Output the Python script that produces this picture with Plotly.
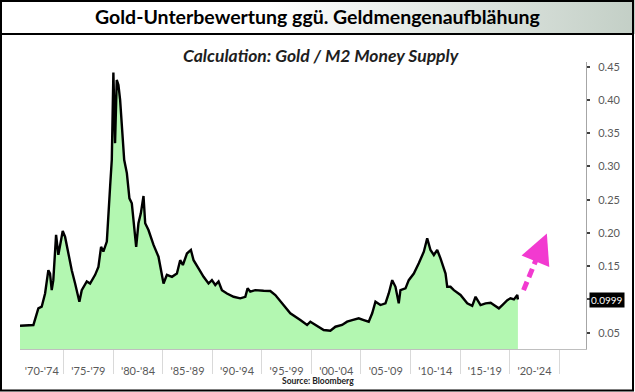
import base64
import plotly.graph_objects as go

# ---------------- data ----------------
years = [1970.60, 1971.95, 1972.45, 1972.79, 1973.13, 1973.46, 1973.63, 1973.80, 1973.96,
         1974.24, 1974.47, 1974.64, 1974.91, 1975.15, 1975.48, 1975.82, 1976.16, 1976.59,
         1976.83, 1977.34, 1977.67, 1978.18, 1978.51, 1978.78, 1979.01, 1979.36, 1979.69,
         1979.86, 1980.02, 1980.19, 1980.36, 1980.53, 1980.70, 1980.87, 1981.11, 1981.38,
         1981.64, 1981.88, 1982.05, 1982.32, 1982.55, 1982.79, 1983.06, 1983.23, 1983.56,
         1984.07, 1984.57, 1985.08, 1985.42, 1985.93, 1986.43, 1986.76, 1987.03, 1987.44,
         1987.84, 1988.11, 1988.61, 1989.12, 1989.62, 1989.96, 1990.30, 1990.63, 1990.97,
         1991.48, 1992.15, 1992.82, 1993.33, 1993.56, 1993.83, 1994.33, 1995.18, 1995.85,
         1996.36, 1996.86, 1997.87, 1998.88, 1999.56, 1999.89, 2000.57, 2001.24, 2001.91,
         2002.42, 2003.09, 2003.60, 2004.11, 2004.77, 2005.28, 2005.78, 2006.13, 2006.46,
         2006.96, 2007.47, 2007.80, 2008.15, 2008.48, 2008.81, 2008.98, 2009.49, 2009.82,
         2010.33, 2010.83, 2011.34, 2011.68, 2012.01, 2012.35, 2012.69, 2013.02, 2013.53,
         2013.70, 2014.03, 2014.37, 2015.04, 2015.72, 2016.22, 2016.56, 2017.06, 2017.57,
         2018.08, 2018.41, 2018.91, 2019.26, 2019.76, 2020.09, 2020.43, 2020.77, 2020.83]
gold_m2 = [0.0605, 0.0616, 0.0867, 0.0891, 0.109, 0.144, 0.139, 0.114, 0.129,
           0.197, 0.167, 0.179, 0.203, 0.194, 0.169, 0.144, 0.124, 0.0966,
           0.114, 0.127, 0.124, 0.137, 0.149, 0.179, 0.172, 0.187, 0.2695,
           0.310, 0.441, 0.335, 0.430, 0.4225, 0.400, 0.360, 0.310, 0.290,
           0.252, 0.2446, 0.2195, 0.179, 0.2145, 0.2295, 0.2556, 0.2145, 0.2044,
           0.182, 0.1643, 0.124, 0.137, 0.134, 0.139, 0.159, 0.1518, 0.169,
           0.1744, 0.159, 0.1468, 0.134, 0.124, 0.129, 0.1217, 0.127, 0.114,
           0.109, 0.104, 0.1017, 0.104, 0.1167, 0.1117, 0.114, 0.113, 0.1127,
           0.1067, 0.098, 0.0792, 0.069, 0.0616, 0.0666, 0.060, 0.054, 0.053,
           0.059, 0.0616, 0.0666, 0.069, 0.0716, 0.069, 0.0666, 0.0792, 0.0966,
           0.0916, 0.0941, 0.109, 0.129, 0.119, 0.0941, 0.114, 0.1167, 0.129,
           0.139, 0.1543, 0.1718, 0.192, 0.1743, 0.1668, 0.1743, 0.1618, 0.139,
           0.119, 0.119, 0.114, 0.1067, 0.0941, 0.0904, 0.104, 0.0916, 0.0941,
           0.095, 0.0916, 0.0866, 0.0916, 0.099, 0.1017, 0.100, 0.1067, 0.0999]

period_labels = ["'70-'74", "'75-'79", "'80-'84", "'85-'89", "'90-'94", "'95-'99",
                 "'00-'04", "'05-'09", "'10-'14", "'15-'19", "'20-'24"]
period_bounds = [1970.6, 1975, 1980, 1985, 1990, 1995, 2000, 2005, 2010, 2015, 2020, 2025]
y_ticks = [0.05, 0.10, 0.15, 0.20, 0.25, 0.30, 0.35, 0.40, 0.45]
y_tick_text = ["0.05", "", "0.15", "0.20", "0.25", "0.30", "0.35", "0.40", "0.45"]
last_label = "0.0999"
arrow_from = (2021.4, 0.114)
arrow_to = (2023.75, 0.199)

title_text = "Gold-Unterbewertung ggü. Geldmengenaufblähung"
subtitle_text = "Calculation: Gold / M2 Money Supply"
source_text = "Source: Bloomberg"

# ---------------- layout geometry ----------------
W, H = 635, 392
L, R, T, B = 20, 49, 62, 43
PW, PH = W - L - R, H - T - B


def px_x(px):
    return (px - L) / PW


def px_y(py):
    return (H - B - py) / PH


FONT = "Lato"
label_centers = [(a + b) / 2 for a, b in zip(period_bounds[:-1], period_bounds[1:])]

fig = go.Figure()
fig.add_trace(go.Scatter(
    x=years, y=gold_m2, mode="lines", fill="tozeroy",
    fillcolor="#b3f7b1", line=dict(color="#000000", width=2.4),
    hoverinfo="skip", showlegend=False))

# dashed arrow shaft + head
fx, fy = arrow_from
tx, ty = arrow_to
sx = fx + (tx - fx) * 0.84
sy = fy + (ty - fy) * 0.84
fig.add_shape(type="line", xref="x", yref="y", x0=fx, y0=fy, x1=sx, y1=sy,
              line=dict(color="#f23ad0", width=5, dash="9px,5px"))
fig.add_annotation(x=tx, y=ty, ax=sx - (tx - fx) * 0.03, ay=sy - (ty - fy) * 0.03,
                   xref="x", yref="y", axref="x", ayref="y", text="",
                   showarrow=True, arrowhead=2, arrowsize=1.2, arrowwidth=5,
                   arrowcolor="#f23ad0")

# gradient title bar as an svg image
svg = ('<svg xmlns="http://www.w3.org/2000/svg" width="635" height="34" preserveAspectRatio="none">'
       '<defs><linearGradient id="g" x1="0" y1="0" x2="1" y2="0">'
       '<stop offset="0" stop-color="#ffffff"/><stop offset="0.42" stop-color="#ffffff"/>'
       '<stop offset="1" stop-color="#c3cfc6"/></linearGradient></defs>'
       '<rect width="635" height="34" fill="url(#g)"/></svg>')
src = "data:image/svg+xml;base64," + base64.b64encode(svg.encode()).decode()
fig.add_layout_image(source=src, xref="paper", yref="paper", x=px_x(0), y=px_y(0),
                     sizex=px_x(635) - px_x(0), sizey=px_y(0) - px_y(34),
                     xanchor="left", yanchor="top", sizing="stretch", layer="below")

# frame + title bar separator
fig.add_shape(type="rect", xref="paper", yref="paper", x0=px_x(1), x1=px_x(633),
              y0=px_y(390.5), y1=px_y(1), line=dict(color="#000000", width=2),
              fillcolor="rgba(0,0,0,0)")
fig.add_shape(type="line", xref="paper", yref="paper", x0=px_x(1), x1=px_x(633),
              y0=px_y(34), y1=px_y(34), line=dict(color="#000000", width=2))

fig.add_annotation(text=f"<b>{title_text}</b>", xref="paper", yref="paper",
                   x=px_x(317), y=px_y(17), showarrow=False, xanchor="center",
                   yanchor="middle", font=dict(family=FONT, size=19.5, color="#000000"))
fig.add_annotation(text=f"<b><i>{subtitle_text}</i></b>", xref="paper", yref="paper",
                   x=px_x(321), y=px_y(56), showarrow=False, xanchor="center",
                   yanchor="middle", font=dict(family=FONT, size=17.5, color="#1e1e1e"))
fig.add_annotation(text=f"<b>{source_text}</b>", xref="paper", yref="paper",
                   x=px_x(318), y=px_y(381), showarrow=False, xanchor="center",
                   yanchor="middle", font=dict(family=FONT, size=8.5, color="#222222"))
fig.add_annotation(text=last_label, xref="paper", yref="y", x=px_x(589), y=gold_m2[-1],
                   showarrow=False, xanchor="left", yanchor="middle",
                   bgcolor="#000000", borderpad=1,
                   font=dict(family=FONT, size=10, color="#ffffff"))

fig.update_layout(
    width=W, height=H, margin=dict(l=L, r=R, t=T, b=B, pad=0),
    paper_bgcolor="#ffffff", plot_bgcolor="#ffffff", showlegend=False,
    xaxis=dict(range=[1970.6, 2027.7], showgrid=False, zeroline=False,
               showline=True, linecolor="#bfbfbf", linewidth=1,
               tickmode="array", tickvals=label_centers, ticktext=period_labels,
               ticks="", ticklen=0, ticklabelstandoff=12,
               tickfont=dict(family=FONT, size=11, color="#595959"),
               minor=dict(tickmode="array", tickvals=period_bounds[1:], ticks="outside",
                          ticklen=24, tickcolor="#d9d9d9", tickwidth=1, showgrid=False)),
    yaxis=dict(range=[0.0255, 0.457], side="right", showgrid=False, zeroline=False,
               showline=True, linecolor="#a6a6a6", linewidth=1,
               tickmode="array", tickvals=y_ticks, ticktext=y_tick_text,
               ticks="outside", ticklen=3, tickcolor="#404040", tickwidth=1.5,
               ticklabelstandoff=6,
               tickfont=dict(family=FONT, size=11, color="#595959")),
)

fig.write_html("out.html", config={"displayModeBar": False},
               post_script="document.body.style.margin='0';document.body.style.padding='0';")
